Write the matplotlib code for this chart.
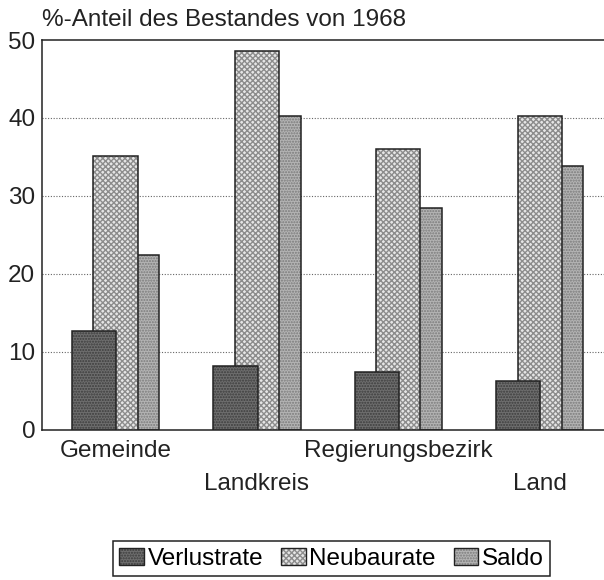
import numpy as np
import matplotlib
matplotlib.use("Agg")
import matplotlib.pyplot as plt
from matplotlib.patches import Patch
from matplotlib.legend_handler import HandlerTuple

plt.rcParams['font.family'] = ['Liberation Sans', 'DejaVu Sans']

# Wohnungsbestand: Verluste, Neubau und Saldo in % des Bestandes von 1968
regions = ["Gemeinde", "Landkreis", "Regierungsbezirk", "Land"]
verlustrate = [12.7, 8.2, 7.4, 6.3]
neubaurate = [35.1, 48.6, 36.0, 40.3]
saldo = [22.4, 40.3, 28.5, 33.8]

fs = 17.5
fig = plt.figure(figsize=(6.04, 5.8), dpi=100)
ax = fig.add_axes([0.07, 0.259, 0.93, 0.672])

x = np.arange(len(regions))
w = 0.312
off = 0.152

# drawn back to front: Saldo, Neubaurate, Verlustrate (overlapping bars)
series = [
    ("Saldo", saldo, off, "#b4b4b4", "#7a7a7a", "......", 2),
    ("Neubaurate", neubaurate, 0, "#e6e6e6", "#8c8c8c", "xxxxxx", 3),
    ("Verlustrate", verlustrate, -off, "#6e6e6e", "#3c3c3c", "......", 4),
]
handles = {}
for name, vals, dx, fc, hc, hatch, z in series:
    ax.bar(x + dx, vals, w, color=fc, edgecolor=hc, hatch=hatch, linewidth=0, zorder=z)
    ax.bar(x + dx, vals, w, fill=False, edgecolor="#222222", linewidth=1.1, zorder=z + 0.5)
    handles[name] = (Patch(facecolor=fc, edgecolor=hc, hatch=hatch, linewidth=0),
                     Patch(fill=False, edgecolor="#222222", linewidth=1.0))

ax.set_xlim(-0.518, 3.454)
ax.set_ylim(0, 50)
ax.set_yticks([0, 10, 20, 30, 40, 50])
ax.tick_params(axis="y", length=0, pad=5, labelsize=fs, colors="#222222")
ax.set_xticks(x)
ax.set_xticklabels(regions, fontsize=fs, color="#222222")
ax.tick_params(axis="x", length=0)
for i, t in enumerate(ax.xaxis.get_major_ticks()):
    t.set_pad(7 if i % 2 == 0 else 31)

for yv in [10, 20, 30, 40]:
    ax.axhline(yv, color="#666666", linestyle=(0, (1, 1.5)), linewidth=0.8, zorder=1)

for s in ["left", "top", "bottom"]:
    ax.spines[s].set_linewidth(1.1)
    ax.spines[s].set_color("#222222")
ax.spines["right"].set_visible(False)

fig.text(0.069, 0.965, "%-Anteil des Bestandes von 1968", fontsize=fs,
         va="center", ha="left", color="#222222")

order = ["Verlustrate", "Neubaurate", "Saldo"]
leg = fig.legend([handles[n] for n in order], order, loc="center",
                 bbox_to_anchor=(0.549, 0.037), ncol=3, fontsize=fs,
                 handler_map={tuple: HandlerTuple(ndivide=1, pad=0)},
                 handlelength=1.0, handleheight=0.7, handletextpad=0.15,
                 columnspacing=0.75, borderpad=0.25, fancybox=False,
                 framealpha=1)
leg.get_frame().set_edgecolor("#222222")
leg.get_frame().set_linewidth(1.1)

fig.savefig("out.png", dpi=100)
